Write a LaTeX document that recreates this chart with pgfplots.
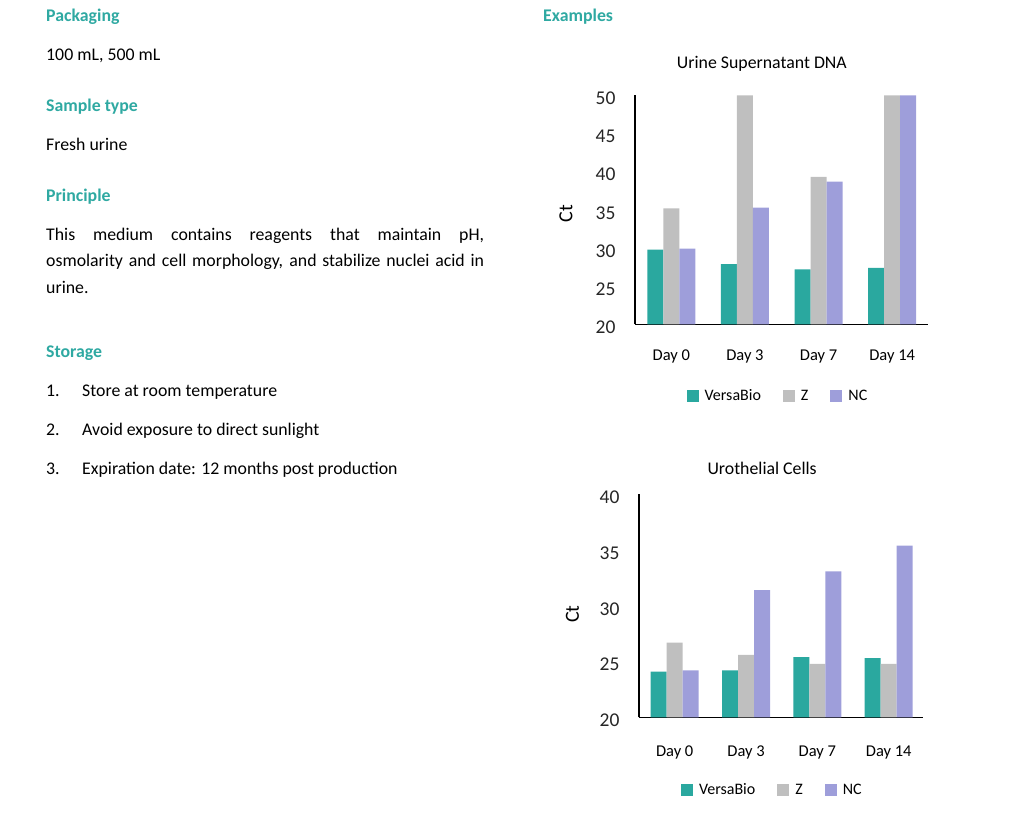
\documentclass[border=0pt]{standalone}
\usepackage{fontspec}
\setmainfont{Carlito}
\usepackage{pgfplots}
\usepackage{pgfplotstable}
\pgfplotsset{compat=1.18}

\definecolor{headteal}{HTML}{2FA9A2}
\definecolor{vbteal}{HTML}{2AA89F}
\definecolor{zgray}{HTML}{BFBFBF}
\definecolor{ncpurple}{HTML}{9E9EDA}

% Ct values, groups: Day 0, 3, 7, 14
\pgfplotstableread{
day V Z NC
0 29.8 35.2 29.9
1 27.9 50.0 35.3
2 27.2 39.3 38.7
3 27.4 50.0 50.0
}\urine

\pgfplotstableread{
day V Z NC
0 24.1 26.7 24.2
1 24.2 25.6 31.4
2 25.4 24.8 33.1
3 25.3 24.8 35.4
}\uro

\pgfplotsset{ctchart/.style={
    scale only axis,
    ybar=0pt, bar width=16pt,
    axis x line=bottom, axis y line=left,
    axis line style={-, line width=1.6pt, black},
    xtick={0,1,2,3}, xticklabels={Day 0,Day 3,Day 7,Day 14},
    major tick length=0pt,
    ymin=20,
    /pgf/number format/assume math mode=true,
    yticklabel style={font=\fontsize{19.5}{20}\selectfont, xshift=-16pt, yshift=-3pt, text=black!85},
    xticklabel style={font=\fontsize{16.5}{18}\selectfont, anchor=base},
    ylabel={Ct},
    ylabel style={font=\fontsize{20}{22}\selectfont, anchor=center},
    title style={font=\fontsize{17.8}{20}\selectfont, anchor=base},
    legend columns=3,
    legend style={draw=none, fill=none, anchor=center,
        font=\fontsize{16}{18}\selectfont,
        /tikz/every odd column/.append style={column sep=4pt},
        /tikz/every even column/.append style={column sep=20pt}},
    legend image code/.code={\fill[#1,draw=none] (0pt,-6pt) rectangle (12pt,6pt);},
}}

\begin{document}
\begin{tikzpicture}
\path[use as bounding box] (0pt,0pt) rectangle (1016pt,-831pt);

\tikzset{body/.style={anchor=base west, inner sep=0pt, font=\fontsize{17.8}{20}\selectfont},
         head/.style={body, text=headteal, font=\bfseries\fontsize{17.8}{20}\selectfont}}

\node[head] at (46pt,-21.7pt) {Packaging};
\node[body] at (46pt,-60.7pt) {100 mL, 500 mL};
\node[head] at (46pt,-111pt) {Sample type};
\node[body] at (46pt,-150pt) {Fresh urine};
\node[head] at (46pt,-201pt) {Principle};
\node[body] at (46pt,-240pt) {\makebox[438pt][s]{This medium contains reagents that maintain pH,}};
\node[body] at (46pt,-266.7pt) {\makebox[438pt][s]{osmolarity and cell morphology, and stabilize nuclei acid in}};
\node[body] at (46pt,-293.3pt) {urine.};
\node[head] at (46pt,-357.5pt) {Storage};
\node[body] at (46pt,-396.5pt) {1.};
\node[body] at (82pt,-396.5pt) {Store at room temperature};
\node[body] at (46pt,-435pt) {2.};
\node[body] at (82pt,-435pt) {Avoid exposure to direct sunlight};
\node[body] at (46pt,-474pt) {3.};
\node[body] at (82pt,-474pt) {Expiration date: 12 months post production};
\node[head] at (543pt,-21.7pt) {Examples};

\begin{axis}[ctchart,
    at={(635pt,-324.3pt)}, anchor=south west,
    width=293pt, height=229pt,
    xmin=-0.493, xmax=3.487, ymax=50,
    ytick={20,25,...,50},
    xticklabel style={yshift=-36pt},
    title={Urine Supernatant DNA},
    title style={at={(0.433,1)}, yshift=21.3pt},
    ylabel style={at={(axis description cs:-0.2355,0.484)}},
    legend style={at={(0.488,-0.313)}},
]
\addplot[fill=vbteal, draw=none] table[x=day, y=V] {\urine};
\addplot[fill=zgray, draw=none] table[x=day, y=Z] {\urine};
\addplot[fill=ncpurple, draw=none] table[x=day, y=NC] {\urine};
\legend{VersaBio, Z, NC}
\end{axis}

\begin{axis}[ctchart,
    at={(639pt,-717.3pt)}, anchor=south west,
    width=284.3pt, height=223pt,
    xmin=-0.50, xmax=3.485, ymax=40,
    ytick={20,25,...,40},
    xticklabel style={yshift=-39pt},
    title={Urothelial Cells},
    title style={at={(0.433,1)}, yshift=14.3pt},
    ylabel style={at={(axis description cs:-0.234,0.463)}},
    legend style={at={(0.469,-0.326)}},
]
\addplot[fill=vbteal, draw=none] table[x=day, y=V] {\uro};
\addplot[fill=zgray, draw=none] table[x=day, y=Z] {\uro};
\addplot[fill=ncpurple, draw=none] table[x=day, y=NC] {\uro};
\legend{VersaBio, Z, NC}
\end{axis}
\end{tikzpicture}
\end{document}
